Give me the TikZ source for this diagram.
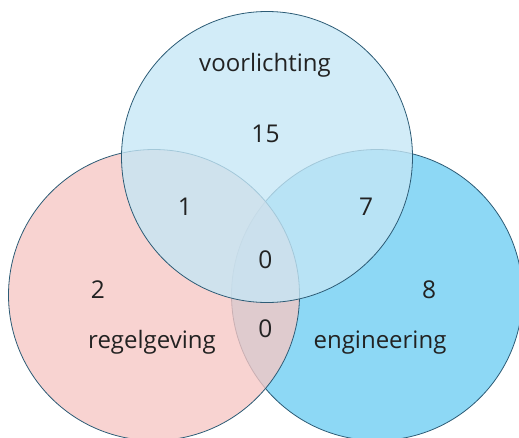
\documentclass[tikz,border=0pt]{standalone}
\usepackage{fontspec}
\setmainfont{Open Sans}
\definecolor{vennline}{RGB}{45,92,118}
\definecolor{vennpink}{RGB}{246,199,196}
\definecolor{vennsky}{RGB}{197,231,246}
\definecolor{vennblue}{RGB}{109,205,242}
\definecolor{venntext}{RGB}{34,34,34}
\tikzset{
        set/.style={circle, draw=vennline, line width=0.8pt, minimum size=291pt, inner sep=0pt, fill opacity=0.78},
        pinkset/.style={set, fill=vennpink},
        skyset/.style={set, fill=vennsky},
        blueset/.style={set, fill=vennblue},
        count/.style={text=venntext, font=\fontsize{24.5}{29}\selectfont, anchor=base, inner sep=0pt},
        setname/.style={count, font=\fontsize{24}{29}\selectfont}
          }
\begin{document}
\begin{tikzpicture}[x=1pt, y=-1pt]
        \useasboundingbox (0,0) rectangle (519,437);
        \node[blueset] (engineering) at (377,295) {};
        \node[pinkset] (regelgeving) at (154,295) {};
        \node[skyset] (voorlichting) at (267,157) {};
        \node[setname] (vname) at (265,71) {voorlichting};
        \node[setname] (rname) at (152,348) {regelgeving};
        \node[setname] (ename) at (380,348) {engineering};
        \node[count] (nv) at (265.5,142) {15};
        \node[count] (nvr) at (185,215) {1};
        \node[count] (nve) at (366,215) {7};
        \node[count] (nall) at (265.5,268) {0};
        \node[count] (nr) at (98,298) {2};
        \node[count] (ne) at (429,298) {8};
        \node[count] (nre) at (265.5,337) {0};
      \end{tikzpicture}
\end{document}
